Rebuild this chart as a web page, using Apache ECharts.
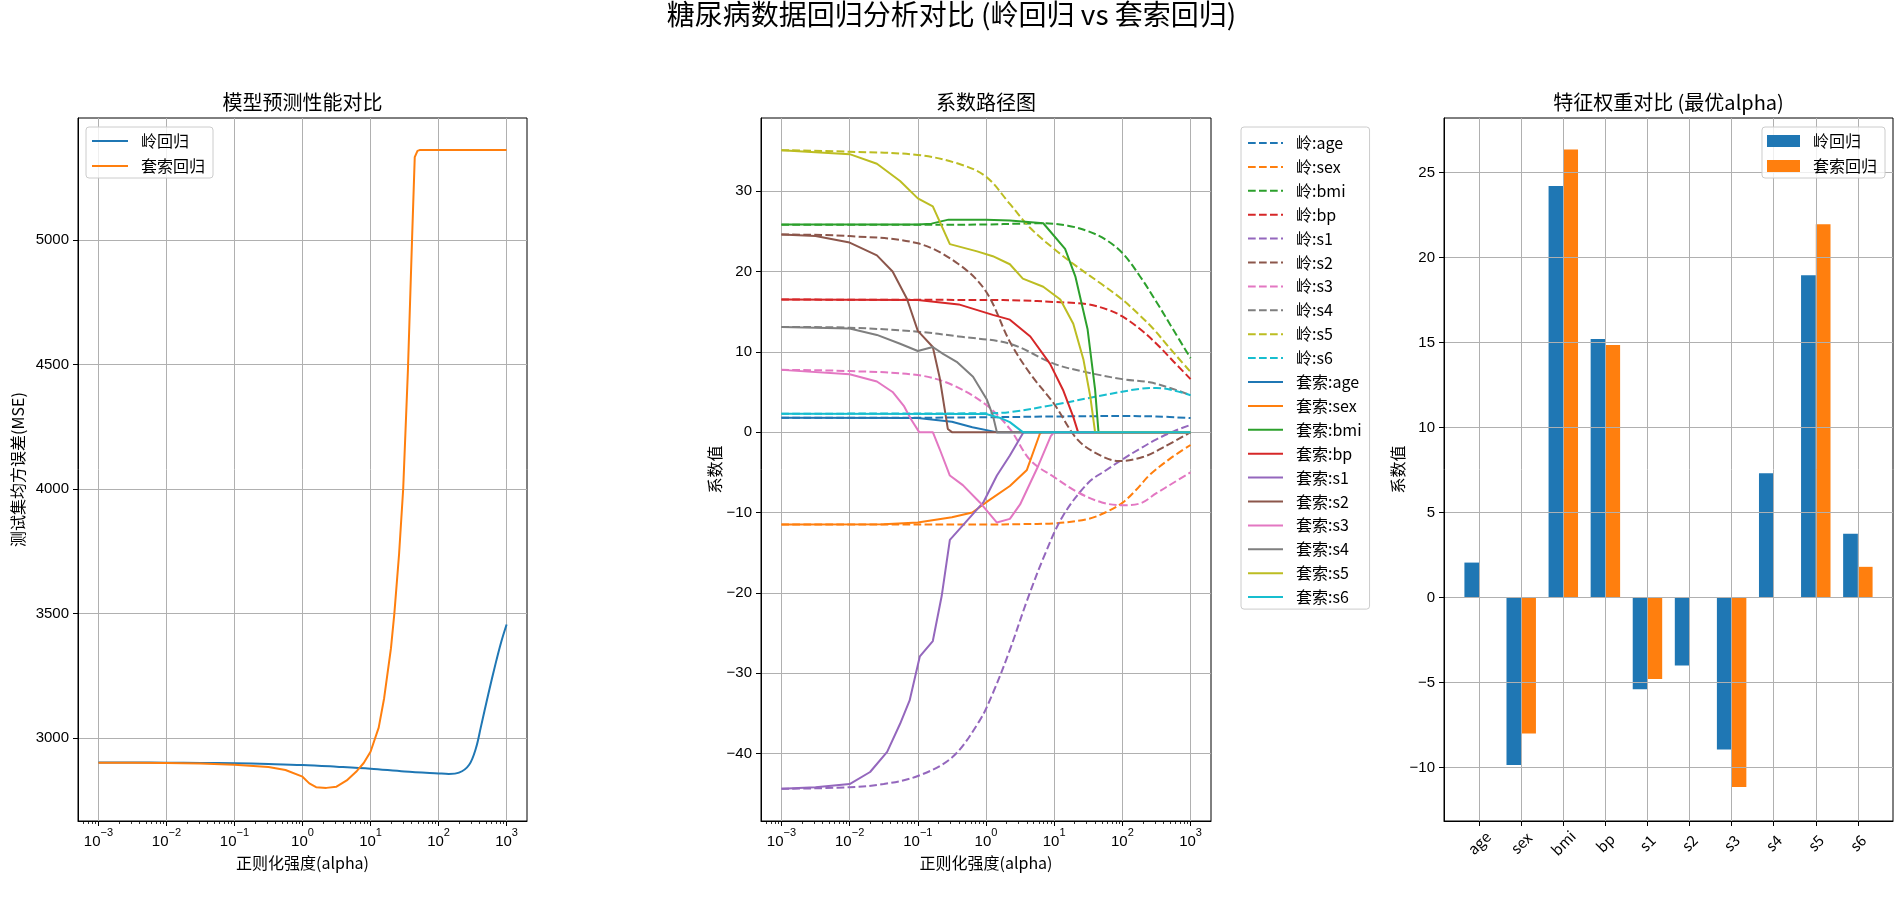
<!DOCTYPE html>
<html><head><meta charset="utf-8">
<script src="https://cdn.jsdelivr.net/npm/echarts@6/dist/echarts.min.js"></script>
<style>html,body{margin:0;padding:0;background:#fff}#c{width:1903px;height:898px}</style>
</head><body><div id="c"></div>
<script>
// ---------------- DATA ----------------
// Left chart: test MSE vs log10(alpha)
const ridgeMse = [[-3,2902],[-2.5,2902],[-2,2901],[-1.5,2900],[-1,2899],[-0.5,2896],[0,2892],[0.5,2885],[1,2877],[1.5,2866],[2,2858],[2.15,2856],[2.3,2861],[2.45,2893],[2.55,2960],[2.62,3042],[2.73,3175],[2.84,3301],[2.92,3385],[3,3456]];
const lassoMse = [[-3,2901],[-2.5,2901],[-2,2900],[-1.5,2898],[-1,2893],[-0.5,2884],[-0.25,2872],[0,2845],[0.1,2818],[0.2,2803],[0.35,2800],[0.5,2805],[0.65,2830],[0.8,2868],[0.9,2900],[1.0,2945],[1.12,3042],[1.2,3160],[1.3,3360],[1.35,3500],[1.42,3740],[1.48,4000],[1.55,4480],[1.61,5000],[1.65,5333],[1.69,5358],[1.72,5361],[3,5361]];

// Middle chart: coefficient paths, [log10(alpha), coefficient]
const featureNames = ['age','sex','bmi','bp','s1','s2','s3','s4','s5','s6'];
const ridgeAge = [[-3,1.8],[-1,1.8],[0,1.85],[1,1.95],[2,2.0],[2.5,1.95],[3,1.75]];
const ridgeSex = [[-3,-11.5],[-1,-11.5],[0,-11.5],[0.5,-11.45],[1,-11.35],[1.5,-10.8],[1.75,-10.0],[2,-8.8],[2.2,-7.2],[2.41,-5.25],[2.7,-3.3],[3,-1.6]];
const ridgeBmi = [[-3,25.8],[-1,25.8],[0,25.85],[0.5,25.95],[0.8,26.0],[1.2,25.7],[1.5,25.0],[1.75,24.0],[2,22.3],[2.25,19.5],[2.5,16.2],[2.75,12.7],[3,9.2]];
const ridgeBp = [[-3,16.5],[0,16.45],[0.5,16.4],[1,16.2],[1.5,15.9],[1.8,15.2],[2,14.4],[2.25,12.9],[2.5,11.0],[2.75,8.8],[3,6.6]];
const ridgeS1 = [[-3,-44.4],[-2,-44.2],[-1.5,-43.8],[-1,-42.8],[-0.5,-40.5],[-0.1,-36],[0.1,-32.5],[0.35,-27.1],[0.6,-21],[0.85,-15.5],[1.13,-10.4],[1.5,-6.3],[1.75,-4.8],[2,-3.4],[2.25,-2.1],[2.5,-0.9],[2.75,0.1],[3,0.9]];
const ridgeS2 = [[-3,24.6],[-2,24.4],[-1,23.5],[-0.4,20.9],[0,17.5],[0.35,11.25],[0.65,7.25],[1,3.5],[1.35,-1.0],[1.7,-3.0],[1.95,-3.6],[2.3,-3.1],[2.6,-1.9],[3,0]];
const ridgeS3 = [[-3,7.75],[-2,7.6],[-1,7.1],[-0.5,5.9],[0,3.4],[0.35,0.4],[0.65,-3.5],[1,-5.6],[1.35,-7.5],[1.7,-8.75],[2,-9.1],[2.25,-8.9],[2.5,-7.6],[2.75,-6.3],[3,-5.0]];
const ridgeS4 = [[-3,13.1],[-2,13.0],[-1,12.5],[-0.4,11.9],[0.35,11.0],[1,8.5],[1.45,7.5],[2,6.6],[2.4,6.2],[2.7,5.5],[3,4.6]];
const ridgeS5 = [[-3,35.1],[-2,34.9],[-1,34.5],[-0.4,33.4],[0,31.8],[0.35,28.4],[0.65,25.4],[1,22.8],[1.35,20.5],[1.7,18.4],[2,16.5],[2.26,14.5],[2.45,12.9],[2.7,10.4],[3,7.5]];
const ridgeS6 = [[-3,2.3],[0,2.35],[0.35,2.5],[1,3.4],[1.6,4.4],[2.26,5.4],[2.5,5.5],[2.75,5.2],[3,4.6]];

const lassoAge = [[-3,1.8],[-1,1.75],[-0.5,1.3],[-0.2,0.6],[0.15,0],[3,0]];
const lassoSex = [[-3,-11.5],[-1.5,-11.45],[-1,-11.25],[-0.5,-10.6],[-0.2,-10.0],[0,-8.75],[0.35,-6.7],[0.6,-4.7],[0.79,-0.2],[0.82,0],[3,0]];
const lassoBmi = [[-3,25.85],[-1,25.85],[-0.8,25.95],[-0.55,26.45],[0,26.45],[0.35,26.35],[0.84,26.0],[1.16,22.8],[1.31,19.4],[1.49,12.8],[1.6,5.3],[1.65,0],[3,0]];
const lassoBp = [[-3,16.5],[-1,16.45],[-0.4,15.9],[0.1,14.6],[0.35,14.0],[0.65,11.9],[0.94,8.5],[1.13,5.25],[1.28,1.9],[1.35,0],[3,0]];
const lassoS1 = [[-3,-44.4],[-2.5,-44.2],[-2,-43.8],[-1.7,-42.3],[-1.45,-39.8],[-1.26,-36.3],[-1.12,-33.4],[-0.97,-27.9],[-0.78,-26],[-0.65,-20.4],[-0.53,-13.4],[-0.34,-11.6],[-0.04,-8.75],[0.16,-5.4],[0.35,-2.9],[0.55,0],[3,0]];
const lassoS2 = [[-3,24.6],[-2.5,24.4],[-2,23.6],[-1.6,22],[-1.37,20],[-1.16,16.6],[-1,12.6],[-0.78,10.6],[-0.68,6.8],[-0.56,0.4],[-0.5,0],[3,0]];
const lassoS3 = [[-3,7.75],[-2,7.2],[-1.6,6.3],[-1.37,5.0],[-1.2,3.2],[-1.1,1.6],[-0.98,0],[-0.78,0],[-0.68,-2.1],[-0.53,-5.4],[-0.34,-6.6],[-0.09,-8.75],[0.16,-11.25],[0.35,-10.8],[0.5,-9],[0.75,-4.5],[0.95,-0.5],[1.0,0],[3,0]];
const lassoS4 = [[-3,13.1],[-2,12.9],[-1.6,12.1],[-1.26,11.0],[-1.0,10.1],[-0.78,10.6],[-0.63,9.75],[-0.43,8.75],[-0.19,6.9],[0.01,4.1],[0.1,2.1],[0.16,0],[3,0]];
const lassoS5 = [[-3,35.1],[-2,34.6],[-1.6,33.4],[-1.26,31.25],[-1.0,29.1],[-0.78,28.1],[-0.53,23.4],[-0.13,22.5],[0.1,21.9],[0.35,20.9],[0.54,19.1],[0.84,18.1],[1.09,16.5],[1.28,13.5],[1.43,9],[1.53,4.4],[1.6,0],[3,0]];
const lassoS6 = [[-3,2.3],[0,2.25],[0.2,1.8],[0.35,1.25],[0.54,0],[3,0]];

// Right chart: coefficients at optimal alpha
const ridgeCoef = [2.05, -9.85, 24.2, 15.2, -5.4, -4.0, -8.95, 7.3, 18.95, 3.75];
const lassoCoef = [0, -8.0, 26.35, 14.85, -4.8, 0, -11.15, 0, 21.95, 1.8];

// Tick labels
const logTicks = [-3,-2,-1,0,1,2,3];
const mseTicks = [3000,3500,4000,4500,5000];
const coefPathTicks = [-40,-30,-20,-10,0,10,20,30];
const coefBarTicks = [-10,-5,0,5,10,15,20,25];
const featureIdx = [0,1,2,3,4,5,6,7,8,9];

// ---------------- CHART ----------------
const CJK = "'Noto Sans CJK SC', 'Noto Sans CJK JP', sans-serif";
const NUM = "'Liberation Sans', 'DejaVu Sans', sans-serif";
const colors = ['#1f77b4','#ff7f0e','#2ca02c','#d62728','#9467bd','#8c564b','#e377c2','#7f7f7f','#bcbd22','#17becf'];
const ridgePaths = [ridgeAge, ridgeSex, ridgeBmi, ridgeBp, ridgeS1, ridgeS2, ridgeS3, ridgeS4, ridgeS5, ridgeS6];
const lassoPaths = [lassoAge, lassoSex, lassoBmi, lassoBp, lassoS1, lassoS2, lassoS3, lassoS4, lassoS5, lassoS6];

const minorTicks = [];
for (let n = -4; n <= 3; n++) for (let k = 2; k <= 9; k++) { const v = n + Math.log10(k); if (v > -3.3 && v < 3.3) minorTicks.push(v); }

const gridLine = {show: true, lineStyle: {color: '#b0b0b0', width: 1}};
const axLine = {show: true, onZero: false, lineStyle: {color: '#000', width: 1}};
const tick = (vals) => ({show: true, inside: false, length: 5, customValues: vals, lineStyle: {color: '#000', width: 1}});
const nameStyle = {fontSize: 16, fontFamily: CJK, color: '#000'};
const plainNum = v => String(Math.round(v * 100) / 100).replace('-', '\u2212');
const numLabel = (vals, extra) => Object.assign({show: true, customValues: vals, color: '#000', fontSize: 15, fontFamily: NUM, margin: 9, formatter: plainNum}, extra || {});

const expLabel = {
  formatter: v => '{b|10}{s|' + (v < 0 ? '\u2212' : '') + Math.abs(Math.round(v)) + '}',
  margin: 6,
  rich: {
    b: {fontSize: 15, fontFamily: NUM, color: '#000', lineHeight: 22, verticalAlign: 'bottom'},
    s: {fontSize: 11, fontFamily: NUM, color: '#000', lineHeight: 22, verticalAlign: 'top'}
  }
};

function logXAxis(gi, name) {
  return {gridIndex: gi, type: 'value', min: -3.3, max: 3.3, name: name, nameLocation: 'middle', nameGap: 34,
    nameTextStyle: nameStyle, axisLine: axLine, axisTick: tick(logTicks),
    axisLabel: numLabel(logTicks, expLabel), splitLine: gridLine};
}
function minorXAxis(gi) {
  return {gridIndex: gi, type: 'value', min: -3.3, max: 3.3, axisLine: {show: false}, axisLabel: {show: false},
    splitLine: {show: false}, axisTick: {show: true, length: 3, customValues: minorTicks, lineStyle: {color: '#000', width: 0.8}}};
}

const series = [];
series.push({name: '岭回归', type: 'line', xAxisIndex: 0, yAxisIndex: 0, data: ridgeMse, symbol: 'none', smooth: 0.35,
  lineStyle: {width: 2, color: colors[0]}, itemStyle: {color: colors[0]}});
series.push({name: '套索回归', type: 'line', xAxisIndex: 0, yAxisIndex: 0, data: lassoMse, symbol: 'none',
  lineStyle: {width: 2, color: colors[1]}, itemStyle: {color: colors[1]}});
featureNames.forEach((f, i) => series.push({name: '岭:' + f, type: 'line', xAxisIndex: 1, yAxisIndex: 1, data: ridgePaths[i],
  symbol: 'none', smooth: 0.35, lineStyle: {width: 2, type: [7.7, 3.3], color: colors[i]}, itemStyle: {color: colors[i]}}));
featureNames.forEach((f, i) => series.push({name: '套索:' + f, type: 'line', xAxisIndex: 1, yAxisIndex: 1, data: lassoPaths[i],
  symbol: 'none', lineStyle: {width: 2, color: colors[i]}, itemStyle: {color: colors[i]}}));
series.push({name: '岭回归', type: 'bar', xAxisIndex: 2, yAxisIndex: 2, data: featureIdx.map(i => [i, ridgeCoef[i]]),
  barWidth: '35%', barGap: '0%', itemStyle: {color: colors[0]}});
series.push({name: '套索回归', type: 'bar', xAxisIndex: 2, yAxisIndex: 2, data: featureIdx.map(i => [i, lassoCoef[i]]),
  barWidth: '35%', barGap: '0%', itemStyle: {color: colors[1]}});

const legendBase = {itemWidth: 35, itemHeight: 12, backgroundColor: 'rgba(255,255,255,0.8)', borderColor: '#cccccc',
  borderWidth: 1, borderRadius: 3, orient: 'vertical', selectedMode: false,
  textStyle: {fontSize: 16, fontFamily: CJK, color: '#000', lineHeight: 18, padding: [0, 0, 0, 8]}};

const titleStyle = {fontSize: 20, fontFamily: CJK, fontWeight: 'normal', color: '#000'};

const option = {
  animation: false,
  backgroundColor: '#fff',
  title: [
    {text: '糖尿病数据回归分析对比 (岭回归 vs 套索回归)', left: 951.5, top: 0, textAlign: 'center', padding: 0,
      textStyle: {fontSize: 28, fontFamily: CJK, fontWeight: 'normal', color: '#000'}},
    {text: '模型预测性能对比', left: 302.5, top: 92, textAlign: 'center', padding: 0, textStyle: titleStyle},
    {text: '系数路径图', left: 986, top: 92, textAlign: 'center', padding: 0, textStyle: titleStyle},
    {text: '特征权重对比 (最优alpha)', left: 1668.5, top: 92, textAlign: 'center', padding: 0, textStyle: titleStyle}
  ],
  legend: [
    Object.assign({}, legendBase, {left: 86, top: 127, itemWidth: 36, itemGap: 7, padding: [5, 8, 3, 5],
      itemStyle: {opacity: 0}, data: ['岭回归', '套索回归']}),
    Object.assign({}, legendBase, {left: 1241, top: 127, itemGap: 5.9, padding: [7, 8, 3, 6], itemStyle: {opacity: 0},
      data: featureNames.map(f => '岭:' + f).concat(featureNames.map(f => '套索:' + f))}),
    Object.assign({}, legendBase, {right: 18, top: 127, itemWidth: 33, itemHeight: 12, itemGap: 7, padding: [5, 8, 3, 5], icon: 'rect',
      data: ['岭回归', '套索回归']})
  ],
  grid: [
    {left: 78, top: 118, width: 449, height: 703, show: true, borderColor: '#000', borderWidth: 1, outerBoundsMode: 'none'},
    {left: 761, top: 118, width: 450, height: 703, show: true, borderColor: '#000', borderWidth: 1, outerBoundsMode: 'none'},
    {left: 1444, top: 118, width: 449, height: 703, show: true, borderColor: '#000', borderWidth: 1, outerBoundsMode: 'none'},
    {left: 78, top: 118, width: 449, height: 703, show: false, outerBoundsMode: 'none'},
    {left: 761, top: 118, width: 450, height: 703, show: false, outerBoundsMode: 'none'}
  ],
  xAxis: [
    logXAxis(0, '正则化强度(alpha)'),
    logXAxis(1, '正则化强度(alpha)'),
    {gridIndex: 2, type: 'value', min: -0.835, max: 9.835, z: 3, axisLine: axLine, axisTick: tick(featureIdx),
      axisLabel: numLabel(featureIdx, {formatter: v => featureNames[Math.round(v)], rotate: 45, align: 'center',
        verticalAlign: 'middle', margin: 22, fontFamily: CJK, fontSize: 15}),
      splitLine: gridLine},
    minorXAxis(3),
    minorXAxis(4)
  ],
  yAxis: [
    {gridIndex: 0, type: 'value', min: 2667, max: 5490, name: '测试集均方误差(MSE)', nameLocation: 'middle', nameGap: 52,
      nameRotate: 90, nameTextStyle: nameStyle, axisLine: axLine, axisTick: tick(mseTicks), axisLabel: numLabel(mseTicks), splitLine: gridLine},
    {gridIndex: 1, type: 'value', min: -48.4, max: 39.1, name: '系数值', nameLocation: 'middle', nameGap: 38,
      nameRotate: 90, nameTextStyle: nameStyle, axisLine: axLine, axisTick: tick(coefPathTicks), axisLabel: numLabel(coefPathTicks), splitLine: gridLine},
    {gridIndex: 2, type: 'value', min: -13.15, max: 28.2, z: 3, name: '系数值', nameLocation: 'middle', nameGap: 36,
      nameRotate: 90, nameTextStyle: nameStyle, axisLine: axLine, axisTick: tick(coefBarTicks), axisLabel: numLabel(coefBarTicks), splitLine: gridLine},
    {gridIndex: 3, type: 'value', show: false},
    {gridIndex: 4, type: 'value', show: false}
  ],
  series: series
};

const chart = echarts.init(document.getElementById('c'), null, {renderer: 'canvas'});
chart.setOption(option);
</script>
</body></html>
